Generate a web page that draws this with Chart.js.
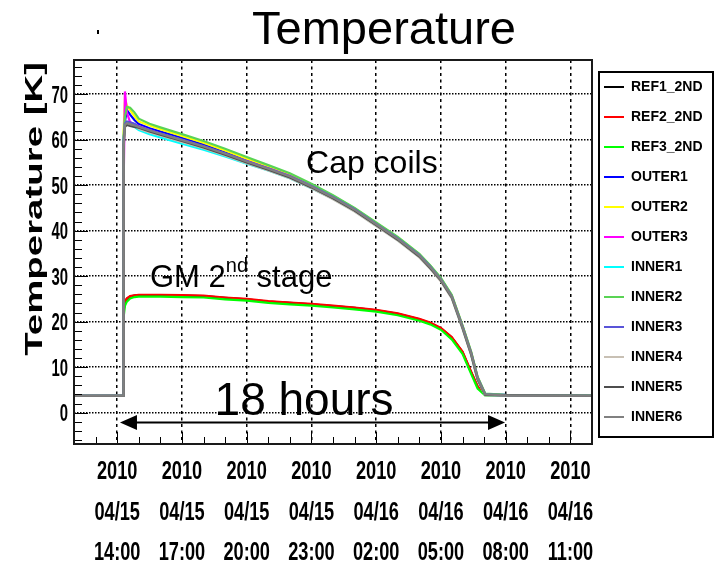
<!DOCTYPE html>
<html>
<head>
<meta charset="utf-8">
<title>Temperature</title>
<script src="https://cdn.jsdelivr.net/npm/chart.js@4.4.1/dist/chart.umd.min.js"></script>
<style>
	html, body { margin: 0; padding: 0; background: #fff; }
	canvas { display: block; }
</style>
</head>
<body>
<canvas id="temperature-chart" width="715" height="564"></canvas>
<script>
// hours counted from 2010/04/15 00:00
var hours = [12, 14.28, 14.3, 14.36, 14.45, 14.6, 14.8, 15, 15.5, 16, 17, 18, 19, 20, 21, 22, 23, 24, 25, 26, 27, 28, 28.5, 29, 29.5, 30, 30.4, 30.7, 31.05, 32, 36];

var sensorNames = ['REF1_2ND', 'REF2_2ND', 'REF3_2ND', 'OUTER1', 'OUTER2', 'OUTER3', 'INNER1', 'INNER2', 'INNER3', 'INNER4', 'INNER5', 'INNER6'];
var sensorColors = ['#000000', '#ff0000', '#00ff00', '#0000ff', '#ffff00', '#ff00ff', '#00ffff', '#59d454', '#5954d8', '#c8c0b4', '#4d4d4d', '#808080'];

// GM cooler 2nd stage [K]
var ref1 = [3.7, 3.7, 22.5, 24.2, 25.0, 25.5, 25.7, 25.8, 25.8, 25.8, 25.7, 25.6, 25.2, 24.9, 24.4, 24.1, 23.8, 23.4, 23.0, 22.5, 21.7, 20.5, 19.7, 18.5, 16.5, 13.3, 8.9, 5.7, 3.9, 3.8, 3.7];
var ref2 = [3.7, 3.7, 23.5, 24.5, 25.1, 25.6, 25.8, 25.9, 25.9, 25.9, 25.8, 25.7, 25.3, 25.0, 24.5, 24.2, 23.9, 23.5, 23.1, 22.6, 21.8, 20.6, 19.8, 18.6, 16.6, 13.4, 9.0, 5.8, 4.0, 3.8, 3.7];
var ref3 = [3.7, 3.7, 21.0, 23.5, 24.4, 25.1, 25.4, 25.5, 25.5, 25.5, 25.4, 25.3, 24.9, 24.6, 24.1, 23.8, 23.5, 23.1, 22.7, 22.2, 21.4, 20.2, 19.4, 18.2, 16.1, 12.9, 8.5, 5.3, 3.8, 3.7, 3.7];

// cap coils [K]
var outer1 = [3.7, 3.7, 60, 64, 66.5, 65.5, 64.3, 63.4, 62.5, 61.8, 60.4, 58.9, 57.2, 55.5, 53.9, 52.2, 50.0, 47.6, 44.8, 41.6, 38.4, 34.7, 32.2, 29.4, 25.7, 19.0, 13.2, 7.7, 4.1, 3.9, 3.8];
var outer2 = [3.7, 3.7, 62, 69, 67.5, 66.5, 65.2, 64.0, 63.1, 62.3, 60.8, 59.3, 57.6, 55.8, 54.1, 52.3, 50.1, 47.6, 44.9, 41.7, 38.5, 34.8, 32.3, 29.5, 25.8, 19.1, 13.3, 7.8, 4.1, 3.8, 3.7];
var outer3 = [3.7, 3.7, 50, 70.6, 66, 63.8, 63.4, 63.0, 62.1, 61.3, 59.9, 58.5, 56.9, 55.3, 53.7, 52.0, 49.8, 47.4, 44.7, 41.5, 38.3, 34.6, 32.1, 29.3, 25.6, 18.9, 13.1, 7.6, 4.0, 3.8, 3.7];
var inner1 = [3.7, 3.7, 60, 63.3, 63.5, 63.2, 62.8, 62.1, 61.2, 60.5, 59.1, 57.8, 56.3, 54.7, 53.2, 51.5, 49.3, 47.0, 44.3, 41.1, 37.9, 34.2, 31.8, 29.0, 25.3, 18.6, 12.8, 7.3, 3.9, 3.7, 3.7];
var inner2 = [3.7, 3.7, 61, 65, 67.2, 67.0, 66.0, 64.6, 63.5, 62.7, 61.2, 59.7, 58.0, 56.2, 54.4, 52.6, 50.3, 47.8, 45.0, 41.8, 38.6, 34.9, 32.4, 29.6, 25.9, 19.2, 13.4, 7.9, 4.2, 3.9, 3.8];
var inner3 = [3.7, 3.7, 60, 63.5, 64, 63.8, 63.5, 62.9, 62.1, 61.4, 60.0, 58.6, 57.0, 55.3, 53.7, 52.0, 49.8, 47.4, 44.7, 41.5, 38.3, 34.6, 32.1, 29.3, 25.6, 18.9, 13.1, 7.6, 4.0, 3.8, 3.7];
var inner4 = [3.7, 3.7, 59, 63, 63.3, 63.2, 63.0, 62.4, 61.6, 60.9, 59.5, 58.1, 56.5, 54.8, 53.2, 51.5, 49.3, 46.9, 44.2, 41.0, 37.8, 34.1, 31.6, 28.8, 25.1, 18.4, 12.6, 7.1, 3.8, 3.7, 3.7];
var inner5 = [3.7, 3.7, 59, 62.8, 63.2, 63.0, 62.8, 62.6, 61.8, 61.1, 59.7, 58.3, 56.7, 55.0, 53.4, 51.7, 49.5, 47.1, 44.4, 41.2, 38.0, 34.3, 31.8, 29.0, 25.3, 18.6, 12.8, 7.3, 3.9, 3.8, 3.7];
var inner6 = [3.7, 3.7, 58, 63.3, 63.6, 63.4, 63.1, 62.8, 62.0, 61.3, 59.9, 58.5, 56.9, 55.2, 53.6, 51.9, 49.7, 47.3, 44.6, 41.4, 38.2, 34.5, 32.0, 29.2, 25.5, 18.8, 13.0, 7.5, 4.0, 3.8, 3.7];

var sensorValues = [ref1, ref2, ref3, outer1, outer2, outer3, inner1, inner2, inner3, inner4, inner5, inner6];

var xTicks = [14, 17, 20, 23, 26, 29, 32, 35];
var xTickLabels = [
	['2010', '04/15', '14:00'],
	['2010', '04/15', '17:00'],
	['2010', '04/15', '20:00'],
	['2010', '04/15', '23:00'],
	['2010', '04/16', '02:00'],
	['2010', '04/16', '05:00'],
	['2010', '04/16', '08:00'],
	['2010', '04/16', '11:00']
];
var yTicks = [0, 10, 20, 30, 40, 50, 60, 70];

var sansFont = "'Liberation Sans', Arial, sans-serif";

// draws text squeezed horizontally, like the narrow axis font of the plot
function narrowText(ctx, text, x, y, squeeze) {
	ctx.save();
	ctx.translate(x, y);
	ctx.scale(squeeze, 1);
	ctx.fillText(text, 0, 0);
	ctx.restore();
}

// frame, inner tick marks, axis labels, legend box and the notes on the plot
var rootStyle = {
	id: 'rootStyle',
	afterLayout: function (chart) {
		var lg = chart.legend;
		lg.left -= 4; lg.right -= 4;
		lg.top += 4; lg.bottom += 4;
	},
	afterDraw: function (chart) {
		var ctx = chart.ctx;
		var area = chart.chartArea;
		var xs = chart.scales.x;
		var ys = chart.scales.y;
		var v, p, len;

		ctx.save();

		ctx.strokeStyle = '#000';
		ctx.lineWidth = 1;
		ctx.beginPath();
		for (v = -6; v <= 76; v += 2) {
			p = Math.round(ys.getPixelForValue(v)) + 0.5;
			len = (v % 10 === 0) ? 14 : 8;
			ctx.moveTo(area.left, p);
			ctx.lineTo(area.left + len, p);
		}
		for (v = 13; v <= 35; v++) {
			p = Math.round(xs.getPixelForValue(v)) + 0.5;
			len = ((v - 14) % 3 === 0) ? 12 : 7;
			ctx.moveTo(p, area.bottom);
			ctx.lineTo(p, area.bottom - len);
		}
		ctx.stroke();

		ctx.lineWidth = 2;
		ctx.strokeStyle = '#1a1a1a';
		ctx.strokeRect(area.left, area.top, area.right - area.left, area.bottom - area.top);

		// legend box
		var lg = chart.legend;
		ctx.strokeStyle = '#000';
		ctx.strokeRect(lg.left + 11, lg.top + 8, 114, 365);

		ctx.fillStyle = '#000';
		ctx.textBaseline = 'alphabetic';

		// tick labels
		ctx.font = 'bold 26px ' + sansFont;
		ctx.textAlign = 'center';
		xs.ticks.forEach(function (tick, i) {
			var tx = xs.getPixelForValue(tick.value);
			xTickLabels[i].forEach(function (line, k) {
				narrowText(ctx, line, tx, area.bottom + 35 + k * 40.5, 0.7);
			});
		});
		ctx.font = 'bold 24px ' + sansFont;
		ctx.textAlign = 'right';
		ys.ticks.forEach(function (tick) {
			narrowText(ctx, String(tick.value), area.left - 6, ys.getPixelForValue(tick.value) + 8.5, 0.62);
		});

		// y axis title, stretched along its length
		ctx.font = 'bold 24px ' + sansFont;
		ctx.save();
		ctx.translate(42, area.top + 2);
		ctx.rotate(-Math.PI / 2);
		ctx.scale(1.6, 1);
		ctx.fillText('Temperature [K]', 0, 0);
		ctx.restore();

		// chart title
		ctx.textAlign = 'center';
		ctx.font = '47px ' + sansFont;
		ctx.fillText('Temperature', 384, 44);
		ctx.fillRect(97, 30, 2, 4);

		// notes
		ctx.textAlign = 'left';
		ctx.font = '32px ' + sansFont;
		ctx.fillText('Cap coils', xs.getPixelForValue(22.75), ys.getPixelForValue(52.7));

		var gx = xs.getPixelForValue(15.52);
		var gy = ys.getPixelForValue(27.7);
		ctx.font = '31px ' + sansFont;
		ctx.fillText('GM 2', gx, gy);
		gx += ctx.measureText('GM 2').width;
		ctx.font = '20px ' + sansFont;
		ctx.fillText('nd', gx, gy - 15);
		gx += ctx.measureText('nd').width;
		ctx.font = '31px ' + sansFont;
		ctx.fillText(' stage', gx, gy);

		ctx.textAlign = 'center';
		ctx.font = '46px ' + sansFont;
		ctx.fillText('18 hours', xs.getPixelForValue(22.66), ys.getPixelForValue(-0.5));

		// 18 hour span arrow
		var ax1 = xs.getPixelForValue(14.13);
		var ax2 = xs.getPixelForValue(31.97);
		var ay = ys.getPixelForValue(-2.2);
		ctx.lineWidth = 2;
		ctx.beginPath();
		ctx.moveTo(ax1 + 4, ay);
		ctx.lineTo(ax2 - 4, ay);
		ctx.stroke();
		ctx.beginPath();
		ctx.moveTo(ax1, ay);
		ctx.lineTo(ax1 + 17, ay - 7.5);
		ctx.lineTo(ax1 + 17, ay + 7.5);
		ctx.closePath();
		ctx.moveTo(ax2, ay);
		ctx.lineTo(ax2 - 17, ay - 7.5);
		ctx.lineTo(ax2 - 17, ay + 7.5);
		ctx.closePath();
		ctx.fill();

		ctx.restore();
	}
};

var datasets = sensorNames.map(function (name, i) {
	return {
		label: name,
		data: sensorValues[i].map(function (val, k) {
			return { x: hours[k], y: val };
		}),
		borderColor: sensorColors[i],
		backgroundColor: sensorColors[i],
		borderWidth: 2.2,
		pointRadius: 0,
		tension: 0,
		// later sensors are painted on top
		order: sensorNames.length - 1 - i
	};
});

new Chart('temperature-chart', {
	type: 'line',
	data: { datasets: datasets },
	plugins: [rootStyle],
	options: {
		responsive: false,
		animation: false,
		devicePixelRatio: 1,
		layout: {
			padding: { top: 60 }
		},
		plugins: {
			title: { display: false },
			tooltip: { enabled: false },
			legend: {
				position: 'right',
				align: 'start',
				maxWidth: 123,
				labels: {
					boxWidth: 20,
					boxHeight: 2,
					padding: 16,
					color: '#000',
					font: { family: sansFont, weight: 'bold', size: 14 },
					sort: function (a, b) { return a.datasetIndex - b.datasetIndex; },
					generateLabels: function (chart) {
						return Chart.defaults.plugins.legend.labels.generateLabels(chart).map(function (item) {
							item.lineWidth = 0;
							return item;
						});
					}
				}
			}
		},
		scales: {
			x: {
				type: 'linear',
				min: 12,
				max: 36,
				afterBuildTicks: function (axis) {
					axis.ticks = xTicks.map(function (v) { return { value: v }; });
				},
				afterFit: function (axis) { axis.height = 120; },
				grid: { color: '#000', lineWidth: 1.5, drawTicks: false },
				border: { display: false, dash: [3, 3.5] },
				ticks: { display: false }
			},
			y: {
				type: 'linear',
				min: -6.9,
				max: 77.5,
				afterBuildTicks: function (axis) {
					axis.ticks = yTicks.map(function (v) { return { value: v }; });
				},
				afterFit: function (axis) { axis.width = 74; },
				grid: { color: '#000', lineWidth: 1.6, drawTicks: false },
				border: { display: false, dash: [1.5, 1.5] },
				ticks: { display: false }
			}
		}
	}
});
</script>
</body>
</html>
